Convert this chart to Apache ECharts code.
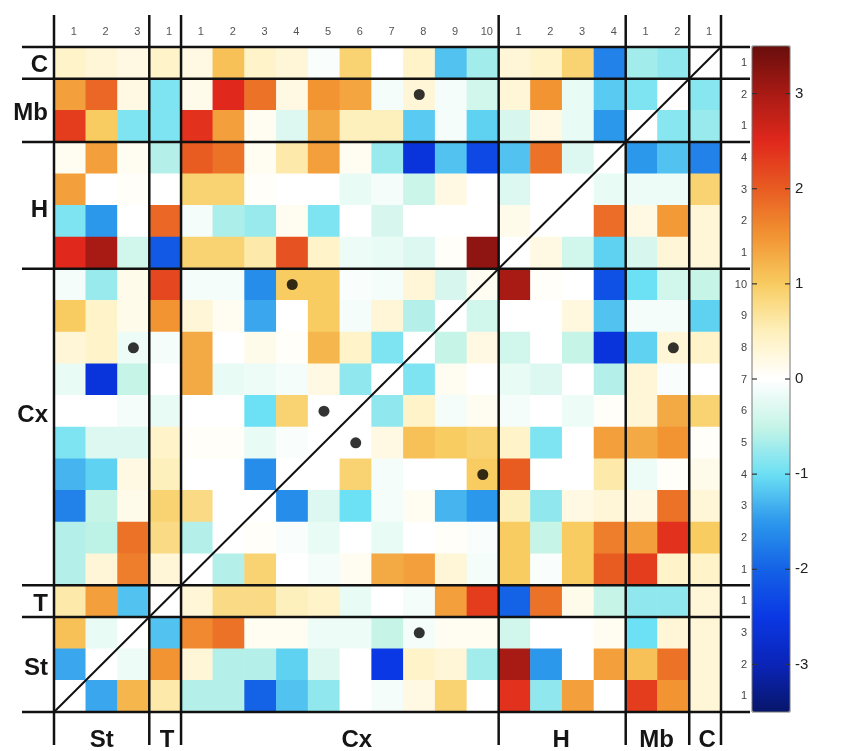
<!DOCTYPE html>
<html><head><meta charset="utf-8">
<script src="https://cdn.jsdelivr.net/npm/echarts@6/dist/echarts.min.js"></script>
<style>html,body{margin:0;padding:0;background:#fff}#c{width:858px;height:751px}</style>
</head><body><div id="c"></div>
<script>
// column categories, left to right: St1-3, T1, Cx1-10, H1-4, Mb1-2, C1
const colLabels = ['1','2','3','1','1','2','3','4','5','6','7','8','9','10','1','2','3','4','1','2','1'];
// row categories, top to bottom: C1, Mb2, Mb1, H4..H1, Cx10..Cx1, T1, St3..St1
const rowLabels = ['1','2','1','4','3','2','1','10','9','8','7','6','5','4','3','2','1','1','3','2','1'];
const colGroups = ['St','T','Cx','H','Mb','C'];
const colGroupSizes = [3,1,10,4,2,1];
const rowGroups = ['C','Mb','H','Cx','T','St'];
const rowGroupSizes = [1,2,4,10,1,3];
const colorbarTicks = [-3,-2,-1,0,1,2,3];

// cell values per row (columns St1..C1)
const rowC1   = [0.4, 0.3, 0.2, 0.4, 0.2, 1.1, 0.4, 0.3, -0.05, 0.9, 0, 0.4, -1.2, -0.7, 0.3, 0.4, 0.9, -1.7, -0.7, -0.8, 0];
const rowMb2  = [1.4, 1.9, 0.2, -0.9, 0.15, 2.5, 1.8, 0.2, 1.5, 1.35, -0.1, 0.3, -0.1, -0.4, 0.3, 1.5, -0.2, -1.15, -0.9, 0, -0.85];
const rowMb1  = [2.3, 1.0, -0.9, -0.9, 2.4, 1.4, 0.1, -0.3, 1.3, 0.5, 0.5, -1.15, -0.1, -1.1, -0.35, 0.2, -0.2, -1.5, 0, -0.85, -0.75];
const rowH4   = [0.1, 1.4, 0.1, -0.6, 2.0, 1.8, 0.1, 0.6, 1.4, 0.1, -0.75, -2.6, -1.2, -2.3, -1.2, 1.8, -0.3, 0, -1.5, -1.2, -1.7];
const rowH3   = [1.4, 0, 0.05, 0, 0.9, 0.9, 0.05, 0, 0, -0.2, -0.1, -0.45, 0.2, 0, -0.3, 0, 0, -0.2, -0.15, -0.15, 0.9];
const rowH2   = [-0.9, -1.5, 0, 1.9, -0.1, -0.65, -0.75, 0.1, -0.9, 0, -0.35, 0, 0, 0, 0.15, 0, 0, 1.85, 0.2, 1.45, 0.3];
const rowH1   = [2.5, 3.0, -0.4, -2.1, 0.9, 0.9, 0.6, 2.1, 0.4, -0.15, -0.2, -0.3, 0.05, 3.2, 0, 0.2, -0.4, -1.1, -0.35, 0.3, 0.3];
const rowCx10 = [-0.1, -0.75, 0.15, 2.2, -0.1, -0.1, -1.6, 1.0, 1.0, -0.05, -0.1, 0.3, -0.35, 0.1, 3.0, 0.05, 0, -2.2, -1.0, -0.4, -0.5];
const rowCx9  = [1.0, 0.4, 0.15, 1.5, 0.3, 0.1, -1.4, 0, 1.0, -0.1, 0.3, -0.6, 0, -0.4, 0, 0, 0.25, -1.2, -0.1, -0.1, -1.1];
const rowCx8  = [0.3, 0.4, -0.15, -0.1, 1.3, 0, 0.15, 0.05, 1.2, 0.4, -0.9, 0, -0.5, 0.2, -0.4, 0, -0.5, -2.6, -1.1, 0.3, 0.4];
const rowCx7  = [-0.2, -2.6, -0.5, 0, 1.3, -0.2, -0.15, -0.1, 0.2, -0.8, 0, -0.9, 0.1, 0, -0.2, -0.3, 0, -0.6, 0.3, -0.05, 0];
const rowCx6  = [0, 0, -0.1, -0.2, 0, 0, -1.0, 0.9, 0, 0, -0.8, 0.4, -0.1, 0.1, -0.1, 0, -0.15, 0.05, 0.3, 1.3, 0.9];
const rowCx5  = [-0.9, -0.3, -0.3, 0.4, 0.05, 0.05, -0.2, -0.05, 0, 0, 0.2, 1.1, 1.0, 0.9, 0.4, -0.9, 0, 1.4, 1.3, 1.5, 0.05];
const rowCx4  = [-1.3, -1.1, 0.2, 0.5, 0, 0, -1.6, 0, 0, 0.9, -0.1, 0, 0, 1.0, 2.0, 0, 0, 0.6, -0.15, 0.05, 0.15];
const rowCx3  = [-1.7, -0.5, 0.15, 0.9, 0.8, 0, 0, -1.6, -0.3, -1.0, -0.1, 0.1, -1.3, -1.5, 0.5, -0.8, 0.2, 0.3, 0.2, 1.8, 0.3];
const rowCx2  = [-0.6, -0.55, 1.8, 0.8, -0.6, 0, 0.05, -0.05, -0.2, 0, -0.2, 0, 0.05, -0.05, 1.0, -0.5, 1.0, 1.7, 1.4, 2.4, 1.0];
const rowCx1  = [-0.6, 0.3, 1.7, 0.3, 0, -0.6, 0.9, 0, -0.1, 0.1, 1.3, 1.4, 0.3, -0.1, 1.0, -0.05, 1.0, 2.0, 2.3, 0.4, 0.4];
const rowT1   = [0.6, 1.4, -1.2, 0, 0.3, 0.8, 0.8, 0.5, 0.4, -0.2, 0, -0.1, 1.4, 2.3, -2.0, 1.8, 0.15, -0.5, -0.8, -0.8, 0.3];
const rowSt3  = [1.1, -0.2, 0, -1.2, 1.6, 1.8, 0.1, 0.1, -0.15, -0.15, -0.5, -0.1, 0.1, 0.1, -0.4, 0, 0, 0.1, -1.0, 0.3, 0.3];
const rowSt2  = [-1.4, 0, -0.15, 1.5, 0.3, -0.6, -0.6, -1.1, -0.3, 0, -2.5, 0.4, 0.3, -0.7, 3.0, -1.5, 0, 1.4, 1.1, 1.8, 0.3];
const rowSt1  = [0, -1.4, 1.2, 0.6, -0.6, -0.6, -2.0, -1.2, -0.8, 0, -0.1, 0.2, 0.9, 0, 2.4, -0.8, 1.4, 0, 2.3, 1.5, 0.3];

// significant cells (column index, row index)
const sigCols = [11, 7, 2, 19, 8, 9, 13, 11];
const sigRows = [1, 7, 9, 9, 11, 12, 13, 18];

(function () {
const rows = [rowC1,rowMb2,rowMb1,rowH4,rowH3,rowH2,rowH1,rowCx10,rowCx9,rowCx8,rowCx7,rowCx6,rowCx5,rowCx4,rowCx3,rowCx2,rowCx1,rowT1,rowSt3,rowSt2,rowSt1];
const heatData = [];
rows.forEach((row, r) => row.forEach((v, c) => heatData.push([c, r, v])));
const sigData = sigCols.map((c, i) => [c, sigRows[i]]);

const cmap = ['#07166a','#0a24b8','#0a38e4','#1462e6','#2c98ec','#6ce0f4','#c6f4e6','#ffffff','#fef0bc','#f8cc60','#f29432','#e85c22','#e0281c','#a81a14','#680e0c'];

const chart = echarts.init(document.getElementById('c'), null, {renderer:'canvas'});
const FONT = '"Liberation Sans", Arial, Helvetica, sans-serif';
chart.setOption({
  animation: false,
  backgroundColor: '#fff',
  grid: [
    {left: 54, top: 47, width: 667, height: 665},
    {left: 752, top: 46, width: 38, height: 666, show: true, borderColor: '#777', borderWidth: 1, backgroundColor: 'transparent', z: 10}
  ],
  xAxis: [
    {type: 'category', gridIndex: 0, data: colLabels, position: 'top',
     axisLine: {show: false}, axisTick: {show: false}, splitLine: {show: false},
     axisLabel: {fontSize: 11, color: '#555', margin: 10, interval: 0, fontFamily: FONT, padding: [0,0,0,8]}},
    {type: 'value', gridIndex: 1, show: false, min: 0, max: 1}
  ],
  yAxis: [
    {type: 'category', gridIndex: 0, data: rowLabels, inverse: true, position: 'right',
     axisLine: {show: false}, axisTick: {show: false}, splitLine: {show: false},
     axisLabel: {fontSize: 11, color: '#444', margin: 26, align: 'right', interval: 0, fontFamily: FONT}},
    {type: 'value', gridIndex: 1, position: 'right', min: -3.5, max: 3.5, z: 10,
     axisLine: {show: false}, splitLine: {show: false}, axisTick: {show: false},
     axisLabel: {show: true, customValues: colorbarTicks, margin: 5, fontSize: 15, color: '#222', fontFamily: FONT}}
  ],
  visualMap: {
    type: 'continuous', seriesIndex: 0, min: -3.5, max: 3.5, show: true, calculable: false,
    orient: 'vertical', left: 752, top: 46, itemWidth: 38, itemHeight: 666, padding: 0, z: 2,
    text: null, showLabel: false, hoverLink: false, realtime: false,
    inRange: {color: cmap}
  },
  series: [
    {type: 'heatmap', xAxisIndex: 0, yAxisIndex: 0, data: heatData, emphasis: {disabled: true}, itemStyle: {borderWidth: 0}},
    {type: 'scatter', xAxisIndex: 0, yAxisIndex: 0, data: sigData, symbol: 'circle', symbolSize: 11,
     itemStyle: {color: '#000'}, z: 20, silent: true}
  ]
});

// structural lines and group labels, derived from the axes
const px = i => chart.convertToPixel({xAxisIndex: 0}, i);
const py = i => chart.convertToPixel({yAxisIndex: 0}, i);
const cw = px(1) - px(0), ch = py(1) - py(0);
const gl = px(0) - cw / 2, gt = py(0) - ch / 2;
const gr = gl + cw * colLabels.length, gb = gt + ch * rowLabels.length;
const g = [];
const LINE = {stroke: '#111', lineWidth: 2.5};
let acc = 0; const colEdges = [0];
colGroupSizes.forEach(s => { acc += s; colEdges.push(acc); });
acc = 0; const rowEdges = [0];
rowGroupSizes.forEach(s => { acc += s; rowEdges.push(acc); });
colEdges.forEach(k => {
  const x = gl + k * cw;
  g.push({type: 'line', shape: {x1: x, y1: gt - 32, x2: x, y2: gb + 33}, style: LINE, z: 100});
});
rowEdges.forEach(k => {
  const y = gt + k * ch;
  g.push({type: 'line', shape: {x1: gl - 32, y1: y, x2: gr + 29, y2: y}, style: LINE, z: 100});
});
g.push({type: 'line', shape: {x1: gl, y1: gb, x2: gr, y2: gt}, style: {stroke: '#111', lineWidth: 2}, z: 100});
const LBL = {font: 'bold 24px ' + FONT, fill: '#151515'};
const colLabelDx = [0, 2, 17, -1, -1, 2];
colGroups.forEach((name, i) => {
  const cx = gl + (colEdges[i] + colEdges[i + 1]) / 2 * cw + colLabelDx[i];
  g.push({type: 'text', x: cx, y: gb + 28, z: 100,
    style: Object.assign({text: name, align: 'center', verticalAlign: 'middle', textAlign: 'center', textVerticalAlign: 'middle'}, LBL)});
});
const rowLabelDy = [3, 3, 5, -12, 3, 4];
rowGroups.forEach((name, i) => {
  const cy = gt + (rowEdges[i] + rowEdges[i + 1]) / 2 * ch + rowLabelDy[i];
  g.push({type: 'text', x: gl - 6, y: cy, z: 100,
    style: Object.assign({text: name, align: 'right', verticalAlign: 'middle', textAlign: 'right', textVerticalAlign: 'middle'}, LBL)});
});
// colorbar tick marks on both inner edges
const cbL = chart.convertToPixel({xAxisIndex: 1}, 0), cbR = chart.convertToPixel({xAxisIndex: 1}, 1);
colorbarTicks.forEach(v => {
  const y = chart.convertToPixel({yAxisIndex: 1}, v);
  g.push({type: 'line', shape: {x1: cbL, y1: y, x2: cbL + 5, y2: y}, style: {stroke: '#333', lineWidth: 1.2}, z: 100});
  g.push({type: 'line', shape: {x1: cbR - 5, y1: y, x2: cbR, y2: y}, style: {stroke: '#333', lineWidth: 1.2}, z: 100});
});
chart.setOption({graphic: g});
})();
</script></body></html>
